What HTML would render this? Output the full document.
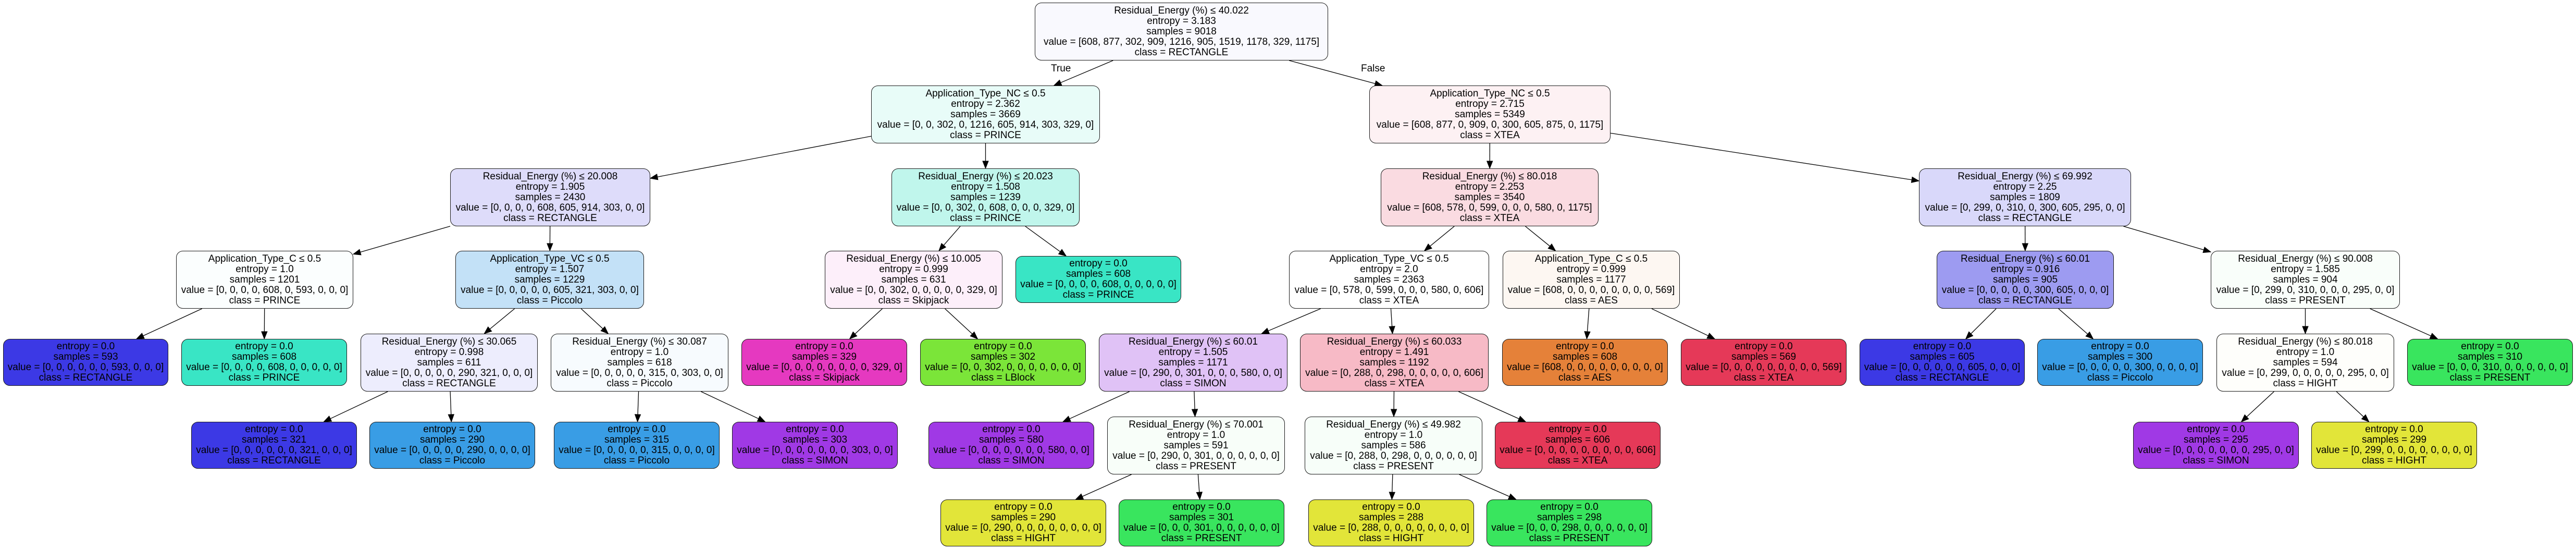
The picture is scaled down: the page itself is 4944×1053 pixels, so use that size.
<!DOCTYPE html>
<html><head><meta charset="utf-8">
<style>
html,body{margin:0;padding:0;background:#fff;}
body{width:4944px;height:1053px;position:relative;overflow:hidden;font-family:"Liberation Sans",Arial,sans-serif;}
.n{position:absolute;box-sizing:border-box;border:1.3px solid #1a1a1a;border-radius:13px;display:flex;flex-direction:column;justify-content:center;align-items:center;font-size:19px;line-height:20px;color:#000;white-space:nowrap;}
.n div{text-align:center;}
.lbl{position:absolute;font-size:19px;line-height:20px;white-space:nowrap;}
svg{position:absolute;left:0;top:0;}
</style></head><body>
<svg id="edges" width="4944" height="1053"></svg>

<div class="n" id="root" style="left:1986px;top:5px;width:563px;height:111px;background:#f9f9fe"><div>Residual_Energy (%) ≤ 40.022</div><div>entropy = 3.183</div><div>samples = 9018</div><div>value = [608, 877, 302, 909, 1216, 905, 1519, 1178, 329, 1175]</div><div>class = RECTANGLE</div></div>

<div class="n" id="A" style="left:1672px;top:164px;width:439px;height:111px;background:#e8fcf8"><div>Application_Type_NC ≤ 0.5</div><div>entropy = 2.362</div><div>samples = 3669</div><div>value = [0, 0, 302, 0, 1216, 605, 914, 303, 329, 0]</div><div>class = PRINCE</div></div>
<div class="n" id="B" style="left:2628px;top:164px;width:463px;height:111px;background:#fdf1f3"><div>Application_Type_NC ≤ 0.5</div><div>entropy = 2.715</div><div>samples = 5349</div><div>value = [608, 877, 0, 909, 0, 300, 605, 875, 0, 1175]</div><div>class = XTEA</div></div>

<div class="n" id="C" style="left:864px;top:323px;width:384px;height:111px;background:#dedcfa"><div>Residual_Energy (%) ≤ 20.008</div><div>entropy = 1.905</div><div>samples = 2430</div><div>value = [0, 0, 0, 0, 608, 605, 914, 303, 0, 0]</div><div>class = RECTANGLE</div></div>
<div class="n" id="D" style="left:1711px;top:323px;width:361px;height:111px;background:#c0f6ec"><div>Residual_Energy (%) ≤ 20.023</div><div>entropy = 1.508</div><div>samples = 1239</div><div>value = [0, 0, 302, 0, 608, 0, 0, 0, 329, 0]</div><div>class = PRINCE</div></div>
<div class="n" id="E" style="left:2650px;top:323px;width:418px;height:111px;background:#fadbe1"><div>Residual_Energy (%) ≤ 80.018</div><div>entropy = 2.253</div><div>samples = 3540</div><div>value = [608, 578, 0, 599, 0, 0, 0, 580, 0, 1175]</div><div>class = XTEA</div></div>
<div class="n" id="F" style="left:3683px;top:323px;width:407px;height:111px;background:#d9d8fa"><div>Residual_Energy (%) ≤ 69.992</div><div>entropy = 2.25</div><div>samples = 1809</div><div>value = [0, 299, 0, 310, 0, 300, 605, 295, 0, 0]</div><div>class = RECTANGLE</div></div>

<div class="n" id="G" style="left:338px;top:481px;width:340px;height:111px;background:#fbfefe"><div>Application_Type_C ≤ 0.5</div><div>entropy = 1.0</div><div>samples = 1201</div><div>value = [0, 0, 0, 0, 608, 0, 593, 0, 0, 0]</div><div>class = PRINCE</div></div>
<div class="n" id="H" style="left:874px;top:481px;width:362px;height:111px;background:#c3e1f7"><div>Application_Type_VC ≤ 0.5</div><div>entropy = 1.507</div><div>samples = 1229</div><div>value = [0, 0, 0, 0, 0, 605, 321, 303, 0, 0]</div><div>class = Piccolo</div></div>
<div class="n" id="I" style="left:1583px;top:481px;width:341px;height:111px;background:#fdeffa"><div>Residual_Energy (%) ≤ 10.005</div><div>entropy = 0.999</div><div>samples = 631</div><div>value = [0, 0, 302, 0, 0, 0, 0, 0, 329, 0]</div><div>class = Skipjack</div></div>
<div class="n" id="J" style="left:1949px;top:491px;width:318px;height:90px;background:#39e5c5"><div>entropy = 0.0</div><div>samples = 608</div><div>value = [0, 0, 0, 0, 608, 0, 0, 0, 0, 0]</div><div>class = PRINCE</div></div>
<div class="n" id="K" style="left:2474px;top:481px;width:384px;height:111px;background:#ffffff"><div>Application_Type_VC ≤ 0.5</div><div>entropy = 2.0</div><div>samples = 2363</div><div>value = [0, 578, 0, 599, 0, 0, 0, 580, 0, 606]</div><div>class = XTEA</div></div>
<div class="n" id="L" style="left:2884px;top:481px;width:340px;height:111px;background:#fdf7f2"><div>Application_Type_C ≤ 0.5</div><div>entropy = 0.999</div><div>samples = 1177</div><div>value = [608, 0, 0, 0, 0, 0, 0, 0, 0, 569]</div><div>class = AES</div></div>
<div class="n" id="M" style="left:3717px;top:481px;width:340px;height:111px;background:#9d9bf1"><div>Residual_Energy (%) ≤ 60.01</div><div>entropy = 0.916</div><div>samples = 905</div><div>value = [0, 0, 0, 0, 0, 300, 605, 0, 0, 0]</div><div>class = RECTANGLE</div></div>
<div class="n" id="N" style="left:4243px;top:481px;width:363px;height:111px;background:#f9fefa"><div>Residual_Energy (%) ≤ 90.008</div><div>entropy = 1.585</div><div>samples = 904</div><div>value = [0, 299, 0, 310, 0, 0, 0, 295, 0, 0]</div><div>class = PRESENT</div></div>

<div class="n" id="l593" style="left:6px;top:650px;width:317px;height:90px;background:#3c39e5"><div>entropy = 0.0</div><div>samples = 593</div><div>value = [0, 0, 0, 0, 0, 0, 593, 0, 0, 0]</div><div>class = RECTANGLE</div></div>
<div class="n" id="l608" style="left:348px;top:650px;width:318px;height:90px;background:#39e5c5"><div>entropy = 0.0</div><div>samples = 608</div><div>value = [0, 0, 0, 0, 608, 0, 0, 0, 0, 0]</div><div>class = PRINCE</div></div>
<div class="n" id="O" style="left:692px;top:640px;width:340px;height:111px;background:#ededfd"><div>Residual_Energy (%) ≤ 30.065</div><div>entropy = 0.998</div><div>samples = 611</div><div>value = [0, 0, 0, 0, 0, 290, 321, 0, 0, 0]</div><div>class = RECTANGLE</div></div>
<div class="n" id="P" style="left:1057px;top:640px;width:341px;height:111px;background:#f7fbfe"><div>Residual_Energy (%) ≤ 30.087</div><div>entropy = 1.0</div><div>samples = 618</div><div>value = [0, 0, 0, 0, 0, 315, 0, 303, 0, 0]</div><div>class = Piccolo</div></div>
<div class="n" id="l329" style="left:1423px;top:650px;width:318px;height:90px;background:#e539c0"><div>entropy = 0.0</div><div>samples = 329</div><div>value = [0, 0, 0, 0, 0, 0, 0, 0, 329, 0]</div><div>class = Skipjack</div></div>
<div class="n" id="l302" style="left:1766px;top:650px;width:318px;height:90px;background:#7be539"><div>entropy = 0.0</div><div>samples = 302</div><div>value = [0, 0, 302, 0, 0, 0, 0, 0, 0, 0]</div><div>class = LBlock</div></div>
<div class="n" id="Q" style="left:2109px;top:640px;width:362px;height:111px;background:#e0c2f6"><div>Residual_Energy (%) ≤ 60.01</div><div>entropy = 1.505</div><div>samples = 1171</div><div>value = [0, 290, 0, 301, 0, 0, 0, 580, 0, 0]</div><div>class = SIMON</div></div>
<div class="n" id="R" style="left:2495px;top:640px;width:362px;height:111px;background:#f7bac6"><div>Residual_Energy (%) ≤ 60.033</div><div>entropy = 1.491</div><div>samples = 1192</div><div>value = [0, 288, 0, 298, 0, 0, 0, 0, 0, 606]</div><div>class = XTEA</div></div>
<div class="n" id="lAES" style="left:2883px;top:650px;width:318px;height:90px;background:#e58139"><div>entropy = 0.0</div><div>samples = 608</div><div>value = [608, 0, 0, 0, 0, 0, 0, 0, 0, 0]</div><div>class = AES</div></div>
<div class="n" id="l569" style="left:3226px;top:650px;width:318px;height:90px;background:#e53958"><div>entropy = 0.0</div><div>samples = 569</div><div>value = [0, 0, 0, 0, 0, 0, 0, 0, 0, 569]</div><div>class = XTEA</div></div>
<div class="n" id="l605" style="left:3569px;top:650px;width:317px;height:90px;background:#3c39e5"><div>entropy = 0.0</div><div>samples = 605</div><div>value = [0, 0, 0, 0, 0, 0, 605, 0, 0, 0]</div><div>class = RECTANGLE</div></div>
<div class="n" id="l300" style="left:3910px;top:650px;width:318px;height:90px;background:#399de5"><div>entropy = 0.0</div><div>samples = 300</div><div>value = [0, 0, 0, 0, 0, 300, 0, 0, 0, 0]</div><div>class = Piccolo</div></div>
<div class="n" id="S" style="left:4254px;top:640px;width:341px;height:111px;background:#fefefb"><div>Residual_Energy (%) ≤ 80.018</div><div>entropy = 1.0</div><div>samples = 594</div><div>value = [0, 299, 0, 0, 0, 0, 0, 295, 0, 0]</div><div>class = HIGHT</div></div>
<div class="n" id="l310" style="left:4620px;top:650px;width:318px;height:90px;background:#39e55e"><div>entropy = 0.0</div><div>samples = 310</div><div>value = [0, 0, 0, 310, 0, 0, 0, 0, 0, 0]</div><div>class = PRESENT</div></div>

<div class="n" id="l321" style="left:367px;top:809px;width:318px;height:90px;background:#3c39e5"><div>entropy = 0.0</div><div>samples = 321</div><div>value = [0, 0, 0, 0, 0, 0, 321, 0, 0, 0]</div><div>class = RECTANGLE</div></div>
<div class="n" id="l290p" style="left:709px;top:809px;width:318px;height:90px;background:#399de5"><div>entropy = 0.0</div><div>samples = 290</div><div>value = [0, 0, 0, 0, 0, 290, 0, 0, 0, 0]</div><div>class = Piccolo</div></div>
<div class="n" id="l315" style="left:1063px;top:809px;width:318px;height:90px;background:#399de5"><div>entropy = 0.0</div><div>samples = 315</div><div>value = [0, 0, 0, 0, 0, 315, 0, 0, 0, 0]</div><div>class = Piccolo</div></div>
<div class="n" id="l303" style="left:1405px;top:809px;width:318px;height:90px;background:#a039e5"><div>entropy = 0.0</div><div>samples = 303</div><div>value = [0, 0, 0, 0, 0, 0, 0, 303, 0, 0]</div><div>class = SIMON</div></div>
<div class="n" id="l580" style="left:1782px;top:809px;width:318px;height:90px;background:#a039e5"><div>entropy = 0.0</div><div>samples = 580</div><div>value = [0, 0, 0, 0, 0, 0, 0, 580, 0, 0]</div><div>class = SIMON</div></div>
<div class="n" id="T" style="left:2125px;top:799px;width:341px;height:111px;background:#f8fef9"><div>Residual_Energy (%) ≤ 70.001</div><div>entropy = 1.0</div><div>samples = 591</div><div>value = [0, 290, 0, 301, 0, 0, 0, 0, 0, 0]</div><div>class = PRESENT</div></div>
<div class="n" id="U" style="left:2504px;top:799px;width:341px;height:111px;background:#f7fef9"><div>Residual_Energy (%) ≤ 49.982</div><div>entropy = 1.0</div><div>samples = 586</div><div>value = [0, 288, 0, 298, 0, 0, 0, 0, 0, 0]</div><div>class = PRESENT</div></div>
<div class="n" id="l606" style="left:2869px;top:809px;width:318px;height:90px;background:#e53958"><div>entropy = 0.0</div><div>samples = 606</div><div>value = [0, 0, 0, 0, 0, 0, 0, 0, 0, 606]</div><div>class = XTEA</div></div>
<div class="n" id="l295" style="left:4094px;top:809px;width:318px;height:90px;background:#a039e5"><div>entropy = 0.0</div><div>samples = 295</div><div>value = [0, 0, 0, 0, 0, 0, 0, 295, 0, 0]</div><div>class = SIMON</div></div>
<div class="n" id="l299" style="left:4436px;top:809px;width:318px;height:90px;background:#e2e539"><div>entropy = 0.0</div><div>samples = 299</div><div>value = [0, 299, 0, 0, 0, 0, 0, 0, 0, 0]</div><div>class = HIGHT</div></div>

<div class="n" id="l290h" style="left:1805px;top:958px;width:318px;height:90px;background:#e2e539"><div>entropy = 0.0</div><div>samples = 290</div><div>value = [0, 290, 0, 0, 0, 0, 0, 0, 0, 0]</div><div>class = HIGHT</div></div>
<div class="n" id="l301" style="left:2147px;top:958px;width:318px;height:90px;background:#39e55e"><div>entropy = 0.0</div><div>samples = 301</div><div>value = [0, 0, 0, 301, 0, 0, 0, 0, 0, 0]</div><div>class = PRESENT</div></div>
<div class="n" id="l288" style="left:2511px;top:958px;width:318px;height:90px;background:#e2e539"><div>entropy = 0.0</div><div>samples = 288</div><div>value = [0, 288, 0, 0, 0, 0, 0, 0, 0, 0]</div><div>class = HIGHT</div></div>
<div class="n" id="l298" style="left:2853px;top:958px;width:318px;height:90px;background:#39e55e"><div>entropy = 0.0</div><div>samples = 298</div><div>value = [0, 0, 0, 298, 0, 0, 0, 0, 0, 0]</div><div>class = PRESENT</div></div>

<div class="lbl" style="left:2017px;top:122px;">True</div>
<div class="lbl" style="left:2612px;top:122px;">False</div>

<script>
(function(){
var E=[["root","A"],["root","B"],["A","C"],["A","D"],["B","E"],["B","F"],
["C","G"],["C","H"],["D","I"],["D","J"],["E","K"],["E","L"],["F","M"],["F","N"],
["G","l593"],["G","l608"],["H","O"],["H","P"],["I","l329"],["I","l302"],["K","Q"],["K","R"],["L","lAES"],["L","l569"],["M","l605"],["M","l300"],["N","S"],["N","l310"],
["O","l321"],["O","l290p"],["P","l315"],["P","l303"],["Q","l580"],["Q","T"],["R","U"],["R","l606"],["S","l295"],["S","l299"],
["T","l290h"],["T","l301"],["U","l288"],["U","l298"]];
function box(id){var e=document.getElementById(id);var l=parseFloat(e.style.left),t=parseFloat(e.style.top),w=parseFloat(e.style.width),h=parseFloat(e.style.height);return {cx:l+w/2,cy:t+h/2,hw:w/2,hh:h/2};}
function clip(b,dx,dy){var tx=Math.abs(dx)>1e-6?b.hw/Math.abs(dx):1e9;var ty=Math.abs(dy)>1e-6?b.hh/Math.abs(dy):1e9;var t=Math.min(tx,ty);return [b.cx+dx*t,b.cy+dy*t];}
var s="";
E.forEach(function(p){var a=box(p[0]),b=box(p[1]);var dx=b.cx-a.cx,dy=b.cy-a.cy;var L=Math.sqrt(dx*dx+dy*dy);dx/=L;dy/=L;
var p1=clip(a,dx,dy),p2=clip(b,-dx,-dy);var al=14,aw=5.5;
var bx=p2[0]-dx*al,by=p2[1]-dy*al;var nx=-dy,ny=dx;
s+='<line x1="'+p1[0]+'" y1="'+p1[1]+'" x2="'+bx+'" y2="'+by+'" stroke="#000" stroke-width="1.3"/>';
s+='<polygon points="'+p2[0]+','+p2[1]+' '+(bx+nx*aw)+','+(by+ny*aw)+' '+(bx-nx*aw)+','+(by-ny*aw)+'" fill="#000" stroke="#000" stroke-width="1"/>';});
document.getElementById("edges").innerHTML=s;
})();
</script>
</body></html>
